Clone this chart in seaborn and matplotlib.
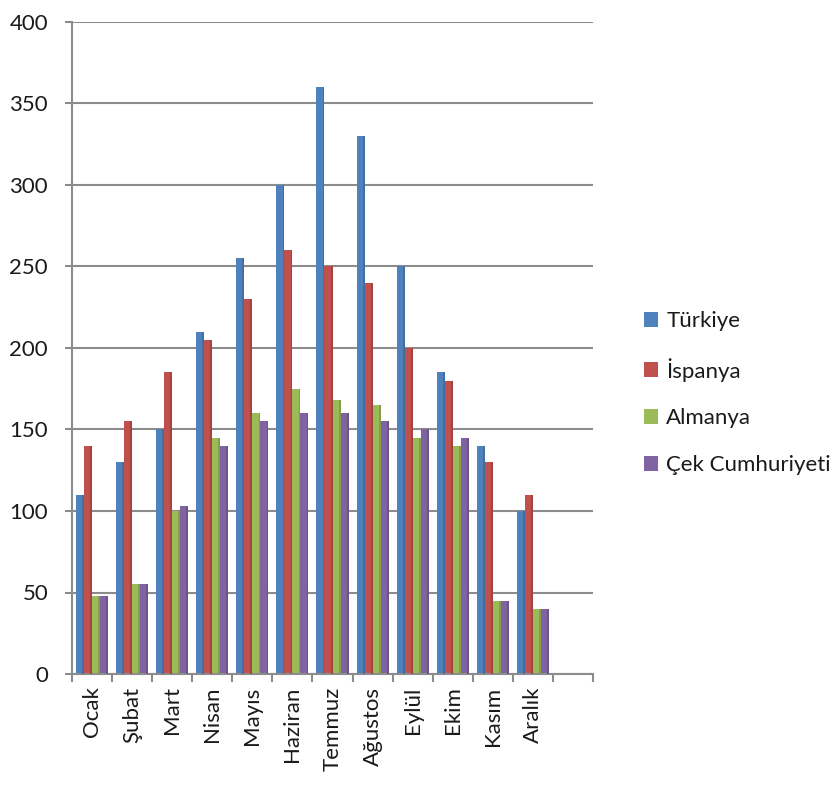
import matplotlib
matplotlib.use("Agg")
import matplotlib.pyplot as plt
import seaborn as sns
import pandas as pd
import numpy as np
from matplotlib.patches import Patch

months = ["Ocak", "Şubat", "Mart", "Nisan", "Mayıs", "Haziran", "Temmuz",
          "Ağustos", "Eylül", "Ekim", "Kasım", "Aralık"]
series_names = ["Türkiye", "İspanya", "Almanya", "Çek Cumhuriyeti"]
turkiye = [110, 130, 150, 210, 255, 300, 360, 330, 250, 185, 140, 100]
ispanya = [140, 155, 185, 205, 230, 260, 250, 240, 200, 180, 130, 110]
almanya = [48, 55, 100, 145, 160, 175, 168, 165, 145, 140, 45, 40]
cek = [48, 55, 103, 140, 155, 160, 160, 155, 150, 145, 45, 40]
colors = ["#4F81BD", "#C0504D", "#9BBB59", "#8064A2"]
yticks = [0, 50, 100, 150, 200, 250, 300, 350, 400]

rows = []
for name, vals in zip(series_names, [turkiye, ispanya, almanya, cek]):
    for m, v in zip(months, vals):
        rows.append({"Ay": m, "Ülke": name, "Değer": v})
df = pd.DataFrame(rows)

sns.set_theme(style="white")
plt.rcParams["font.family"] = ["Lato", "DejaVu Sans"]

fig = plt.figure(figsize=(8.38, 7.88), dpi=100)
ax = fig.add_axes([71.7 / 838, 1 - 674 / 788, 521.6 / 838, 652 / 788])

sns.barplot(data=df, x="Ay", y="Değer", hue="Ülke", order=months,
            hue_order=series_names, palette=colors, width=0.8,
            saturation=1, ax=ax, legend=False, edgecolor="none")

for p in list(ax.patches):
    fc = p.get_facecolor()
    dark = tuple(c * 0.85 for c in fc[:3]) + (1,)
    x0 = p.get_x(); w = p.get_width(); h = p.get_height()
    ax.add_patch(plt.Rectangle((x0 + w * 0.78, 0), w * 0.22, h,
                               facecolor=dark, edgecolor="none", zorder=3))

ax.set_xlim(-0.5, 12.5)
ax.set_ylim(0, 400)
ax.set_yticks(yticks)
ax.set_yticklabels([str(t) for t in yticks], fontsize=16, color="#1a1a1a")
ax.yaxis.grid(True, color="#8c8c8c", linewidth=1.5)
ax.set_axisbelow(True)

ax.set_xticks(range(len(months)))
ax.set_xticklabels(months, rotation=90, fontsize=16, color="#1a1a1a",
                   va="top", ha="center")
ax.tick_params(axis="x", which="major", length=0, pad=9)
ax.set_xticks(np.arange(-0.5, 13, 1.0), minor=True)
ax.tick_params(axis="x", which="minor", length=6, width=1.5, color="#8c8c8c",
               direction="out", bottom=True)
ax.tick_params(axis="y", length=5, width=1.5, color="#8c8c8c", left=True, pad=12)

for s in ["top", "right"]:
    ax.spines[s].set_visible(False)
ax.spines["left"].set_color("#8c8c8c")
ax.spines["left"].set_linewidth(1.5)
ax.spines["bottom"].set_color("#8c8c8c")
ax.spines["bottom"].set_linewidth(1.5)
ax.set_xlabel("")
ax.set_ylabel("")

handles = [Patch(facecolor=c, edgecolor="none") for c in colors]
fig.legend(handles, series_names, loc="center left",
           bbox_to_anchor=(624 / 838, 1 - 393 / 788), frameon=False,
           fontsize=16, handlelength=0.65, handleheight=0.65,
           handletextpad=0.35, labelspacing=1.2, labelcolor="#1a1a1a")

fig.savefig("out.png", dpi=100)
